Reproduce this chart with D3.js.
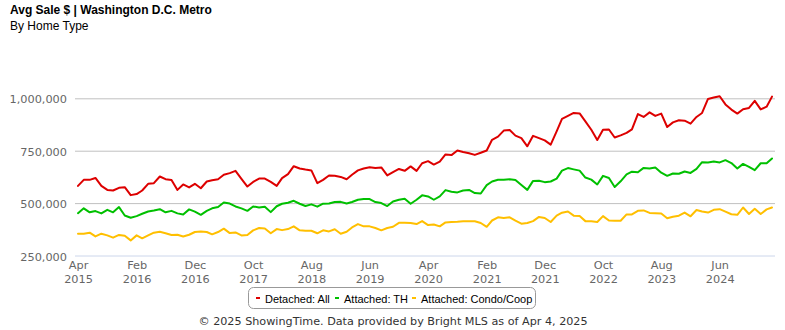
<!DOCTYPE html>
<html><head><meta charset="utf-8">
<script src="https://cdn.jsdelivr.net/npm/d3@7"></script>
<style>body{margin:0;background:#fff}svg{display:block}</style>
</head><body><svg id="c" width="785" height="330"></svg>
<script>
const startMonth = "2015-04";
const detachedAll = [582,611,611,620,582,563,560,573,576,538,543,560,592,595,627,614,610,563,589,575,592,571,603,609,614,635,643,654,616,579,601,617,617,601,582,619,638,676,665,660,656,595,611,632,630,625,614,635,656,665,671,667,670,632,648,663,654,675,654,690,700,684,698,732,729,751,744,738,730,740,751,802,817,846,849,822,810,771,821,810,799,779,842,902,916,930,928,890,850,801,850,851,813,823,835,852,925,911,933,916,927,863,885,895,893,879,911,930,997,1004,1010,971,946,927,948,954,988,947,960,1008].map(v=>v*1000);
const attachedTH = [452,475,456,462,451,468,456,481,441,430,438,449,460,465,471,456,463,451,446,470,459,444,463,475,481,503,498,484,475,463,484,479,483,457,485,497,502,511,497,486,494,483,497,498,505,506,498,505,516,519,519,505,500,486,508,516,521,497,516,537,532,516,532,562,554,551,560,563,548,546,586,603,611,611,614,610,586,563,606,607,600,603,617,655,667,661,655,622,612,589,630,620,577,604,637,650,647,668,665,670,645,630,641,640,651,644,663,695,694,698,694,705,691,665,687,673,657,690,690,713].map(v=>v*1000);
const attachedCondo = [354,354,359,341,354,346,335,348,344,322,346,332,346,359,363,356,348,349,341,349,362,365,362,351,362,378,357,360,346,348,370,381,379,356,376,371,376,389,370,368,368,356,370,365,375,354,363,384,400,389,389,381,370,381,387,406,406,405,400,414,395,398,389,408,410,411,413,414,413,405,387,417,432,429,432,416,402,405,414,434,429,410,440,454,460,440,438,414,413,410,438,417,416,416,446,446,463,465,453,452,450,428,435,440,455,437,467,460,455,468,471,459,447,444,479,448,473,448,470,479].map(v=>v*1000);
const seriesNames = ["Detached: All","Attached: TH","Attached: Condo/Coop"];
const seriesColors = ["#dd0000","#00c000","#ffbf00"];
const xTickLabels = ["Apr 2015","Feb 2016","Dec 2016","Oct 2017","Aug 2018","Jun 2019","Apr 2020","Feb 2021","Dec 2021","Oct 2022","Aug 2023","Jun 2024"];
const yTicks = [250000,500000,750000,1000000];
const titleText = "Avg Sale $ | Washington D.C. Metro";
const subtitleText = "By Home Type";
const footerText = "© 2025 ShowingTime. Data provided by Bright MLS as of Apr 4, 2025";

const parseM = d3.timeParse("%Y-%m");
const parseL = d3.timeParse("%b %Y");
const t0 = parseM(startMonth);
const dates = detachedAll.map((_,i)=>d3.timeMonth.offset(t0,i));
const svg = d3.select("#c");

const x = d3.scaleTime().domain([dates[0], dates[dates.length-1]]).range([78,772]);
const y = d3.scaleLinear().domain([250000,1000000]).range([255.5,98.3]);

svg.append("text").attr("x",10).attr("y",14).attr("font-family","'Liberation Sans',Arial,sans-serif").attr("font-weight","bold").attr("font-size",12).attr("fill","#000").text(titleText);
svg.append("text").attr("x",10).attr("y",30).attr("font-family","'Liberation Sans',Arial,sans-serif").attr("font-size",12).attr("fill","#000").text(subtitleText);

// gridlines
const yAxis = d3.axisLeft(y).tickValues(yTicks).tickSize(-700).tickFormat(d3.format(",")).tickPadding(8);
const gy = svg.append("g").attr("transform","translate(75,0)").call(yAxis);
gy.select(".domain").remove();
gy.selectAll(".tick line").attr("stroke", d=> d===250000 ? "#ccd6eb" : "#c0c0c0").attr("stroke-width",1);
gy.selectAll(".tick text").attr("font-family","'DejaVu Sans',Verdana,sans-serif").attr("font-size",11.3).attr("fill","#666").attr("dy","0.4em").attr("x",-8);

// x axis
const xt = xTickLabels.map(s=>parseL(s));
const xAxis = d3.axisBottom(x).tickValues(xt).tickSize(0).tickFormat(()=>"");
const gx = svg.append("g").attr("transform","translate(0,255.5)").call(xAxis);
gx.select(".domain").remove();
gx.selectAll(".tick").each(function(d,i){
  const parts = xTickLabels[i].split(" ");
  const t = d3.select(this).select("text").attr("font-family","'DejaVu Sans',Verdana,sans-serif").attr("font-size",11.3).attr("fill","#666").attr("y",0).attr("dy",null).text(null);
  t.append("tspan").attr("x",0).attr("y",13.5).text(parts[0]);
  t.append("tspan").attr("x",0).attr("y",27.5).text(parts[1]);
});

// lines
const allSeries = [detachedAll, attachedTH, attachedCondo];
const line = d3.line().x((d,i)=>x(dates[i])).y(d=>y(d));
allSeries.slice().reverse().forEach((s,k)=>{
  const idx = allSeries.length-1-k;
  svg.append("path").datum(s).attr("d",line).attr("fill","none").attr("stroke",seriesColors[idx]).attr("stroke-width",2).attr("stroke-linejoin","round").attr("stroke-linecap","round");
});

// legend
const lg = svg.append("g");
lg.append("rect").attr("x",248.5).attr("y",287.5).attr("width",287).attr("height",21).attr("rx",5).attr("fill","#fff").attr("stroke","#999");
const legX = [256,335,412];
seriesNames.forEach((n,i)=>{
  lg.append("rect").attr("x",legX[i]).attr("y",297).attr("width",4).attr("height",2).attr("fill",seriesColors[i]);
  lg.append("text").attr("x",legX[i]+9).attr("y",302.5).attr("font-family","'Liberation Sans',Arial,sans-serif").attr("font-size",11).attr("fill","#000").text(n);
});

svg.append("text").attr("x",393).attr("y",325).attr("text-anchor","middle").attr("font-family","'DejaVu Sans',Verdana,sans-serif").attr("font-size",11.2).attr("fill","#333").text(footerText);
</script></body></html>
